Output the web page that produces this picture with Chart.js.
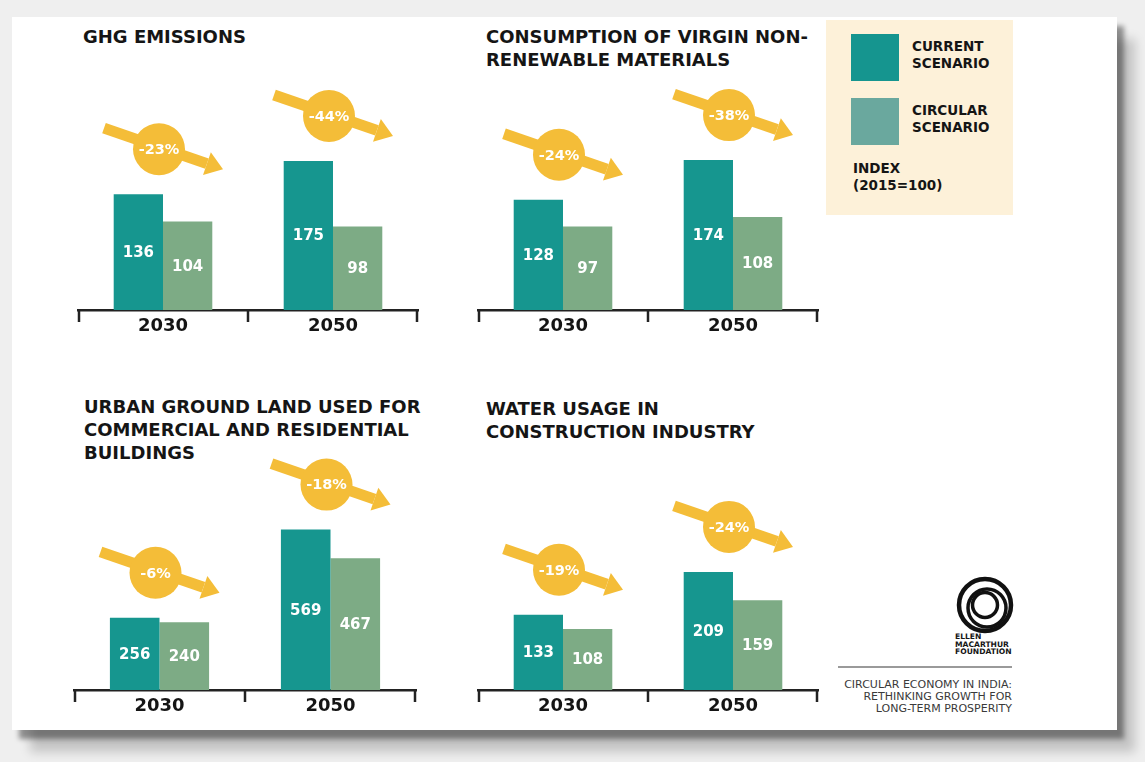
<!DOCTYPE html>
<html>
<head>
<meta charset="utf-8">
<script src="https://cdn.jsdelivr.net/npm/chart.js@4.4.1/dist/chart.umd.min.js"></script>
<style>
  html, body { margin: 0; padding: 0; }
  body {
    width: 1145px; height: 762px; position: relative; overflow: hidden;
    background: #efefef; font-family: 'DejaVu Sans', sans-serif; color: #151515;
  }
  .card {
    position: absolute; left: 12px; top: 17px; width: 1105px; height: 713px; background: #fff;
    box-shadow: 7px 9px 5px rgba(0,0,0,0.4), 18px 22px 10px rgba(0,0,0,0.18);
  }
  .abs { position: absolute; }
  .title { font-weight: 700; font-size: 18px; line-height: 23px; white-space: nowrap; }
  .legend { left: 826px; top: 20px; width: 187px; height: 195px; background: #fdf1d9; }
  .sw { position: absolute; left: 25px; width: 48px; height: 47px; }
  .lt { position: absolute; font-weight: 700; font-size: 13.5px; line-height: 17px; white-space: nowrap; }
  .foot { right: 133px; top: 679px; text-align: right; font-size: 11px; line-height: 12px; color: #3a3a3a; white-space: nowrap; }
  .emf { left: 955px; top: 633px; font-size: 7.6px; line-height: 7.5px; font-weight: 700; }
</style>
</head>
<body>
<div class="card"></div>

<div class="abs title" style="left:83px;top:25px">GHG EMISSIONS</div>
<div class="abs title" style="left:486px;top:25px">CONSUMPTION OF VIRGIN NON-<br>RENEWABLE MATERIALS</div>
<div class="abs title" style="left:84px;top:395px">URBAN GROUND LAND USED FOR<br>COMMERCIAL AND RESIDENTIAL<br>BUILDINGS</div>
<div class="abs title" style="left:486px;top:397px">WATER USAGE IN<br>CONSTRUCTION INDUSTRY</div>

<div class="abs legend">
  <div class="sw" style="top:14px;background:#15958f"></div>
  <div class="lt" style="left:86px;top:18px">CURRENT<br>SCENARIO</div>
  <div class="sw" style="top:78px;background:#6aa89e"></div>
  <div class="lt" style="left:86px;top:82px">CIRCULAR<br>SCENARIO</div>
  <div class="lt" style="left:27px;top:140px">INDEX<br>(2015=100)</div>
</div>

<svg class="abs" style="left:950px;top:570px" width="70" height="70">
  <circle cx="35" cy="35" r="26" fill="none" stroke="#111" stroke-width="4.5"/>
  <circle cx="37" cy="38" r="19" fill="none" stroke="#111" stroke-width="3.5"/>
  <circle cx="35" cy="35" r="12.5" fill="none" stroke="#111" stroke-width="3.5"/>
</svg>
<div class="abs emf">ELLEN<br>MACARTHUR<br>FOUNDATION</div>
<div class="abs" style="left:838px;top:666px;width:174px;height:2px;background:#9a9a9a"></div>
<div class="abs foot">CIRCULAR ECONOMY IN INDIA:<br>RETHINKING GROWTH FOR<br>LONG-TERM PROSPERITY</div>

<div class="abs" style="left:60px;top:60px"><canvas id="c1" width="370" height="280"></canvas></div>
<div class="abs" style="left:462px;top:60px"><canvas id="c2" width="370" height="280"></canvas></div>
<div class="abs" style="left:60px;top:440px"><canvas id="c3" width="370" height="280"></canvas></div>
<div class="abs" style="left:462px;top:440px"><canvas id="c4" width="370" height="280"></canvas></div>

<script>
// data (index, 2015 = 100)
const years = ['2030', '2050'];

const ghgCurrent = [136, 175];
const ghgCircular = [104, 98];
const ghgChange = ['-23%', '-44%'];

const matCurrent = [128, 174];
const matCircular = [97, 108];
const matChange = ['-24%', '-38%'];

const landCurrent = [256, 569];
const landCircular = [240, 467];
const landChange = ['-6%', '-18%'];

const waterCurrent = [133, 209];
const waterCircular = [108, 159];
const waterChange = ['-19%', '-24%'];

const TEAL = '#16968f';
const SAGE = '#7dab85';
const GOLD = '#f4bd38';
const FONT = '"DejaVu Sans", sans-serif';

// white numbers in the middle of every bar
const valueLabels = {
    id: 'valueLabels',
    afterDatasetsDraw(chart) {
        const ctx = chart.ctx;
        ctx.save();
        ctx.fillStyle = '#fff';
        ctx.font = `bold 15px ${FONT}`;
        ctx.textAlign = 'center';
        ctx.textBaseline = 'middle';
        chart.data.datasets.forEach((ds, di) => {
            chart.getDatasetMeta(di).data.forEach((bar, i) => {
                ctx.fillText(ds.data[i], bar.x, (bar.y + bar.base) / 2 + 1);
            });
        });
        ctx.restore();
    }
};

// bracket ticks under the axis line
const bracketTicks = {
    id: 'bracketTicks',
    afterDraw(chart) {
        const x = chart.scales.x;
        const ctx = chart.ctx;
        const y = chart.chartArea.bottom;
        const mid = (x.getPixelForValue(0) + x.getPixelForValue(1)) / 2;
        ctx.save();
        ctx.strokeStyle = '#222';
        ctx.lineWidth = 2.5;
        [x.left + 1, mid, x.right - 1].forEach(px => {
            ctx.beginPath();
            ctx.moveTo(px, y - 1);
            ctx.lineTo(px, y + 12);
            ctx.stroke();
        });
        ctx.restore();
    }
};

// yellow circle + arrow showing the reduction above each pair of bars
const changeBadges = {
    id: 'changeBadges',
    afterDraw(chart, args, opts) {
        const ctx = chart.ctx;
        const x = chart.scales.x;
        const bars = chart.getDatasetMeta(0).data;
        ctx.save();
        bars.forEach((bar, i) => {
            const cx = x.getPixelForValue(i) - 4;
            const cy = bar.y - 45;
            const ang = Math.atan2(41, 119);
            const tipX = cx + 64, tipY = cy + 20;
            const headLen = 17, headW = 12;
            const bx = tipX - headLen * Math.cos(ang), by = tipY - headLen * Math.sin(ang);
            ctx.strokeStyle = GOLD;
            ctx.fillStyle = GOLD;
            ctx.lineWidth = 11;
            ctx.lineCap = 'butt';
            ctx.beginPath();
            ctx.moveTo(cx - 55, cy - 21);
            ctx.lineTo(bx, by);
            ctx.stroke();
            ctx.beginPath();
            ctx.moveTo(tipX, tipY);
            ctx.lineTo(bx - headW * Math.sin(ang), by + headW * Math.cos(ang));
            ctx.lineTo(bx + headW * Math.sin(ang), by - headW * Math.cos(ang));
            ctx.closePath();
            ctx.fill();
            ctx.beginPath();
            ctx.arc(cx, cy, 26, 0, Math.PI * 2);
            ctx.fill();
            ctx.fillStyle = '#fff';
            ctx.font = `bold 14.5px ${FONT}`;
            ctx.textAlign = 'center';
            ctx.textBaseline = 'middle';
            ctx.fillText(opts.labels[i], cx, cy + 1);
        });
        ctx.restore();
    }
};

function makeChart(id, current, circular, change, yMax, padL, padR) {
    return new Chart(document.getElementById(id), {
        type: 'bar',
        data: {
            labels: years,
            datasets: [
                { label: 'Current scenario', data: current, backgroundColor: TEAL },
                { label: 'Circular scenario', data: circular, backgroundColor: SAGE }
            ]
        },
        options: {
            responsive: false,
            animation: false,
            layout: { padding: { left: padL, right: padR, top: 20, bottom: 0 } },
            datasets: { bar: { categoryPercentage: 0.58, barPercentage: 1.0, borderWidth: 0 } },
            plugins: {
                legend: { display: false },
                tooltip: { enabled: false },
                changeBadges: { labels: change }
            },
            scales: {
                x: {
                    grid: { display: false, drawTicks: false },
                    border: { display: true, color: '#222', width: 2.5 },
                    ticks: { color: '#151515', padding: 6, font: { family: FONT, size: 18, weight: 'bold' } },
                    afterFit(scale) { scale.height = 30; }
                },
                y: { display: false, min: 0, max: yMax }
            }
        },
        plugins: [valueLabels, bracketTicks, changeBadges]
    });
}

makeChart('c1', ghgCurrent, ghgCircular, ghgChange, 270, 18, 12);
makeChart('c2', matCurrent, matCircular, matChange, 267, 16, 14);
makeChart('c3', landCurrent, landCircular, landChange, 816, 14, 14);
makeChart('c4', waterCurrent, waterCircular, waterChange, 407, 16, 14);
</script>
</body>
</html>
